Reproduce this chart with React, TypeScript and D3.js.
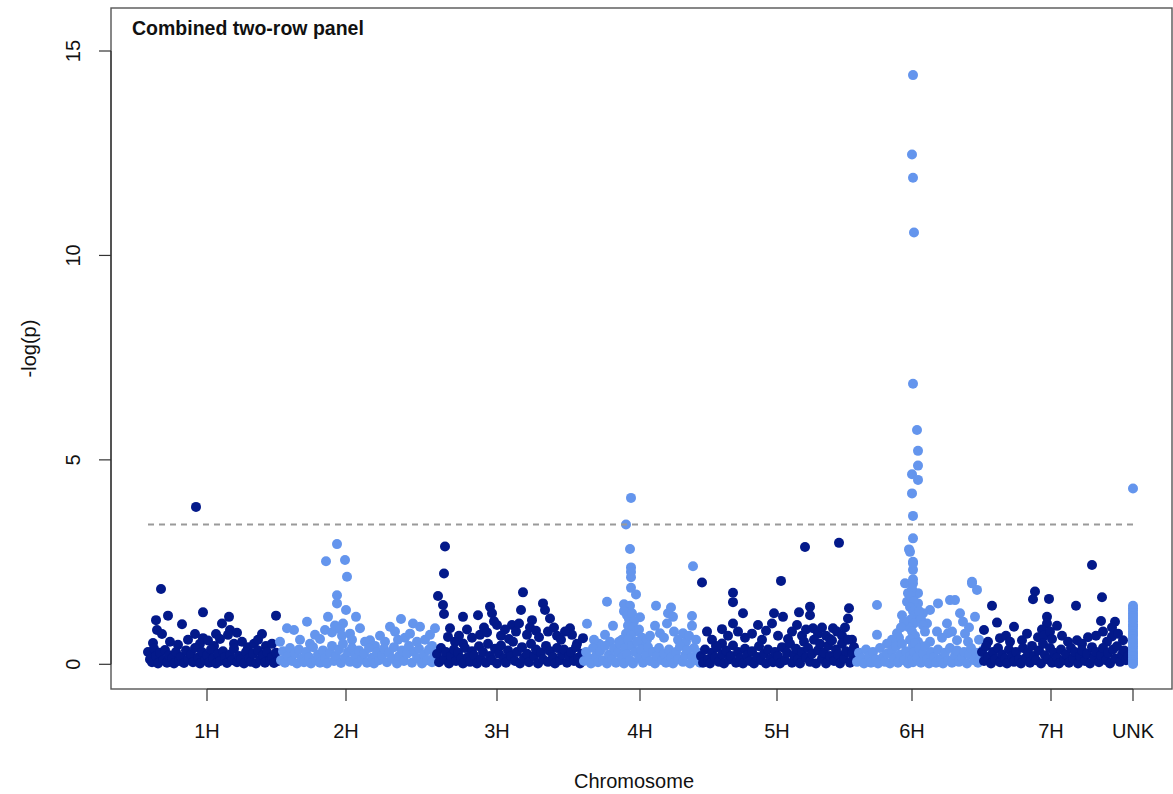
import React from "react";
import * as d3 from "d3";

// Chromosome layout (cumulative position units)
const chromosomes = ["1H", "2H", "3H", "4H", "5H", "6H", "7H", "UNK"];
const chromStart = [0, 132, 289, 436, 552, 709, 834, 985];
const chromTicks = [59, 198, 349, 492, 629, 764, 903, 985];
const yTicks = [0, 5, 10, 15];
const threshold = 3.42;
const title = "Combined two-row panel";

// Markers per chromosome: [position within chromosome, -log(p)]
const chr1H: [number, number][] = [
  [48, 3.85], [13, 1.84], [55, 1.27], [20, 1.19], [8, 1.08], [34, 0.98], [81, 1.16], [74, 1.0], [128, 1.19],
  [9, 0.84], [14, 0.74], [47, 0.74], [55, 0.64], [68, 0.74], [82, 0.84], [89, 0.77], [80, 0.72], [114, 0.74], [5, 0.52],
  [22, 0.55], [30, 0.48], [40, 0.6], [52, 0.5], [60, 0.58], [66, 0.45], [72, 0.62], [86, 0.5], [94, 0.55], [100, 0.42],
  [106, 0.5], [110, 0.6], [118, 0.45], [124, 0.5],
  [0, 0.3], [2, 0.12], [4, 0.05], [6, 0.38], [8, 0.2], [10, 0.02], [12, 0.28], [15, 0.1], [17, 0.35], [19, 0.04],
  [21, 0.22], [24, 0.14], [26, 0.02], [28, 0.3], [31, 0.08], [33, 0.18], [36, 0.03], [38, 0.34], [40, 0.12], [43, 0.24],
  [45, 0.05], [47, 0.4], [50, 0.16], [52, 0.02], [54, 0.3], [57, 0.1], [59, 0.22], [61, 0.04], [63, 0.36], [65, 0.14],
  [68, 0.02], [70, 0.26], [72, 0.08], [75, 0.32], [77, 0.18], [79, 0.03], [82, 0.24], [84, 0.1], [86, 0.38], [89, 0.05],
  [91, 0.2], [93, 0.12], [96, 0.02], [98, 0.3], [101, 0.15], [103, 0.06], [105, 0.26], [108, 0.02], [110, 0.34], [112, 0.12],
  [115, 0.22], [117, 0.04], [119, 0.3], [122, 0.1], [124, 0.18], [126, 0.03], [128, 0.28], [130, 0.08],
];

const chr2H: [number, number][] = [
  [57, 2.94], [46, 2.52], [65, 2.55], [67, 2.14], [57, 1.69], [57, 1.49], [66, 1.33], [27, 1.04], [48, 1.16], [76, 1.16],
  [14, 0.84], [7, 0.88], [121, 1.11], [133, 1.0], [140, 0.92], [155, 0.88], [110, 0.92], [35, 0.72], [45, 0.84], [63, 1.0],
  [80, 0.88], [90, 0.59], [0, 0.55],
  [20, 0.6], [30, 0.5], [40, 0.62], [52, 0.78], [55, 0.95], [60, 0.85], [62, 0.7], [70, 0.75], [72, 0.6], [85, 0.55],
  [95, 0.45], [100, 0.7], [105, 0.55], [115, 0.8], [118, 0.6], [125, 0.65], [130, 0.75], [137, 0.55], [145, 0.6], [150, 0.72], [152, 0.45],
  [1, 0.1], [3, 0.32], [5, 0.04], [8, 0.2], [10, 0.4], [12, 0.08], [15, 0.26], [17, 0.02], [19, 0.36], [22, 0.14],
  [24, 0.05], [26, 0.3], [29, 0.18], [31, 0.02], [33, 0.42], [36, 0.1], [38, 0.24], [40, 0.04], [43, 0.34], [45, 0.15],
  [47, 0.02], [50, 0.28], [52, 0.45], [54, 0.08], [56, 0.2], [59, 0.36], [61, 0.03], [63, 0.5], [65, 0.16], [68, 0.3],
  [70, 0.06], [72, 0.4], [75, 0.22], [77, 0.02], [79, 0.34], [82, 0.12], [84, 0.26], [87, 0.04], [89, 0.4], [92, 0.16],
  [94, 0.02], [97, 0.3], [99, 0.1], [102, 0.22], [104, 0.38], [107, 0.05], [109, 0.28], [112, 0.14], [114, 0.42], [117, 0.02],
  [119, 0.2], [122, 0.34], [124, 0.08], [127, 0.26], [129, 0.45], [132, 0.04], [134, 0.3], [137, 0.15], [139, 0.38], [142, 0.02],
  [144, 0.24], [147, 0.1], [149, 0.36], [152, 0.05], [154, 0.2], [156, 0.3],
];

const chr3H: [number, number][] = [
  [8, 2.88], [7, 2.22], [1, 1.67], [6, 1.45], [7, 1.23], [26, 1.16], [41, 1.2], [53, 1.41], [55, 1.25], [86, 1.76],
  [84, 1.33], [106, 1.49], [108, 1.33], [95, 1.08], [113, 1.12], [111, 0.8], [133, 0.88], [135, 0.72], [146, 0.64], [13, 0.88],
  [11, 0.67], [43, 0.72], [60, 0.96], [75, 0.96], [26, 0.51],
  [30, 0.85], [35, 0.65], [47, 0.9], [50, 0.78], [57, 1.05], [64, 0.7], [68, 0.85], [72, 0.62], [79, 0.8], [82, 1.0],
  [90, 0.72], [93, 0.9], [99, 0.82], [102, 0.66], [117, 0.9], [120, 0.7], [124, 0.6], [128, 0.8], [140, 0.5], [18, 0.55], [22, 0.7],
  [0, 0.25], [2, 0.05], [4, 0.4], [7, 0.12], [9, 0.3], [12, 0.02], [14, 0.2], [17, 0.36], [19, 0.08], [21, 0.28],
  [24, 0.14], [26, 0.02], [28, 0.4], [31, 0.18], [33, 0.06], [35, 0.32], [37, 0.22], [40, 0.02], [42, 0.44], [44, 0.12],
  [46, 0.3], [49, 0.04], [51, 0.5], [53, 0.2], [55, 0.1], [58, 0.38], [60, 0.02], [62, 0.26], [64, 0.46], [67, 0.14],
  [69, 0.04], [71, 0.34], [74, 0.2], [76, 0.55], [78, 0.08], [80, 0.3], [83, 0.02], [85, 0.42], [87, 0.16], [90, 0.26],
  [92, 0.05], [94, 0.5], [97, 0.2], [99, 0.36], [101, 0.02], [104, 0.28], [106, 0.12], [109, 0.45], [111, 0.06], [113, 0.32],
  [116, 0.18], [118, 0.02], [120, 0.4], [123, 0.1], [125, 0.24], [127, 0.36], [130, 0.04], [132, 0.2], [134, 0.3], [137, 0.08],
  [139, 0.42], [141, 0.16], [143, 0.02], [145, 0.26],
];

const chr4H: [number, number][] = [
  [47, 4.07], [42, 3.42], [46, 2.82], [47, 2.37], [47, 2.26], [47, 2.13], [47, 1.87], [52, 1.71], [109, 2.4], [23, 1.53],
  [40, 1.47], [46, 1.43], [72, 1.43], [87, 1.39], [84, 1.25], [89, 1.16], [108, 1.18], [56, 1.15], [3, 0.99], [29, 0.94],
  [71, 0.94], [83, 1.0], [108, 0.94], [21, 0.72], [76, 0.76], [99, 0.76],
  [40, 1.3], [43, 1.2], [45, 1.1], [48, 1.25], [50, 1.05], [44, 0.95], [49, 0.9], [52, 0.8], [42, 0.75], [47, 0.7],
  [55, 0.85], [38, 0.6], [58, 0.65], [60, 0.5], [35, 0.55], [63, 0.6], [66, 0.7], [80, 0.65], [90, 0.8], [94, 0.6],
  [102, 0.55], [105, 0.7], [112, 0.6], [15, 0.5], [10, 0.6], [26, 0.55],
  [0, 0.08], [2, 0.3], [5, 0.15], [7, 0.02], [9, 0.4], [12, 0.2], [14, 0.05], [16, 0.32], [19, 0.1], [21, 0.45],
  [23, 0.02], [25, 0.24], [28, 0.12], [30, 0.38], [32, 0.04], [34, 0.28], [36, 0.5], [38, 0.16], [40, 0.02], [41, 0.4],
  [43, 0.25], [44, 0.6], [46, 0.1], [48, 0.45], [49, 0.02], [51, 0.3], [53, 0.55], [55, 0.14], [57, 0.36], [59, 0.04],
  [62, 0.22], [64, 0.42], [66, 0.08], [69, 0.3], [71, 0.02], [73, 0.2], [75, 0.4], [78, 0.1], [80, 0.26], [82, 0.04],
  [85, 0.36], [87, 0.16], [89, 0.02], [92, 0.3], [94, 0.12], [96, 0.44], [99, 0.06], [101, 0.22], [103, 0.35], [106, 0.02],
  [108, 0.18], [110, 0.4], [112, 0.1], [114, 0.28], [116, 0.04],
];

const chr5H: [number, number][] = [
  [2, 2.0], [81, 2.04], [105, 2.87], [139, 2.97], [33, 1.75], [33, 1.52], [43, 1.25], [74, 1.25], [83, 1.16], [99, 1.27],
  [110, 1.41], [110, 1.2], [149, 1.37], [148, 1.12], [22, 0.86], [33, 1.0], [58, 0.96], [72, 1.0], [97, 0.96], [113, 0.88],
  [133, 0.88], [7, 0.8], [22, 0.51],
  [28, 0.7], [38, 0.8], [45, 0.65], [52, 0.75], [62, 0.6], [66, 0.82], [78, 0.7], [88, 0.62], [92, 0.8], [102, 0.7],
  [106, 0.85], [118, 0.75], [122, 0.9], [126, 0.7], [130, 0.62], [137, 0.8], [142, 0.7], [145, 0.9], [152, 0.6], [12, 0.6], [16, 0.45],
  [1, 0.2], [3, 0.04], [5, 0.36], [8, 0.12], [10, 0.02], [12, 0.28], [15, 0.16], [17, 0.42], [19, 0.06], [22, 0.24],
  [24, 0.02], [26, 0.34], [29, 0.12], [31, 0.2], [33, 0.46], [36, 0.04], [38, 0.3], [40, 0.14], [43, 0.02], [45, 0.38],
  [47, 0.22], [50, 0.08], [52, 0.32], [54, 0.02], [57, 0.18], [59, 0.44], [61, 0.1], [64, 0.26], [66, 0.02], [68, 0.36],
  [71, 0.14], [73, 0.05], [75, 0.3], [78, 0.2], [80, 0.02], [82, 0.42], [85, 0.1], [87, 0.28], [90, 0.5], [92, 0.04],
  [94, 0.22], [96, 0.38], [98, 0.12], [100, 0.02], [102, 0.3], [104, 0.55], [106, 0.16], [108, 0.4], [110, 0.06], [112, 0.26],
  [114, 0.6], [116, 0.02], [118, 0.34], [120, 0.5], [122, 0.14], [124, 0.28], [126, 0.02], [128, 0.45], [130, 0.2], [132, 0.58],
  [134, 0.08], [136, 0.36], [138, 0.24], [140, 0.02], [142, 0.5], [144, 0.14], [146, 0.32], [148, 0.6], [150, 0.04], [152, 0.26],
  [154, 0.42], [156, 0.1],
];

const chr6H: [number, number][] = [
  [56, 14.41], [55, 12.47], [56, 11.9], [57, 10.56], [56, 6.86], [60, 5.73], [61, 5.22], [61, 4.86], [55, 4.65], [61, 4.51],
  [55, 4.18], [56, 3.63], [56, 3.08], [52, 2.81], [53, 2.75], [56, 2.51], [56, 2.31], [56, 2.47], [48, 1.98], [56, 2.08],
  [115, 2.02], [56, 1.98], [51, 1.74], [61, 1.74], [20, 1.45], [50, 1.53], [61, 1.49], [81, 1.49], [93, 1.57], [98, 1.57],
  [115, 1.98], [120, 1.82], [103, 1.25], [106, 1.04], [118, 1.16], [73, 1.33], [66, 1.25], [90, 1.0], [91, 0.76], [70, 1.0],
  [40, 0.76], [20, 0.72], [38, 0.47], [61, 0.55], [73, 0.55], [100, 0.59], [111, 0.55], [126, 0.35],
  [55, 1.85], [54, 1.65], [57, 1.55], [53, 1.4], [56, 1.3], [58, 1.2], [54, 1.1], [57, 1.0], [52, 0.9], [55, 0.8],
  [58, 0.7], [53, 0.6], [56, 0.45], [59, 0.35], [54, 0.25],
  [62, 1.3], [64, 1.1], [66, 0.95], [68, 0.8], [45, 1.2], [47, 1.05], [44, 0.9], [42, 0.65], [35, 0.6], [30, 0.5],
  [80, 0.8], [85, 0.65], [95, 0.8], [108, 0.75], [112, 0.9], [122, 0.6],
  [0, 0.06], [2, 0.28], [5, 0.14], [7, 0.02], [9, 0.36], [12, 0.2], [14, 0.04], [16, 0.3], [19, 0.12], [21, 0.02],
  [23, 0.4], [26, 0.18], [28, 0.06], [30, 0.26], [33, 0.02], [35, 0.34], [37, 0.14], [39, 0.44], [41, 0.04], [43, 0.24],
  [45, 0.5], [47, 0.1], [49, 0.32], [51, 0.02], [53, 0.2], [55, 0.12], [56, 0.05], [57, 0.3], [58, 0.52], [60, 0.16],
  [62, 0.38], [64, 0.04], [66, 0.26], [68, 0.44], [70, 0.12], [72, 0.02], [74, 0.3], [77, 0.18], [79, 0.04], [81, 0.36],
  [84, 0.14], [86, 0.02], [88, 0.28], [91, 0.1], [93, 0.4], [95, 0.04], [98, 0.22], [100, 0.34], [102, 0.06], [105, 0.16],
  [107, 0.3], [110, 0.02], [112, 0.24], [114, 0.4], [117, 0.1], [119, 0.28], [121, 0.04], [123, 0.2], [125, 0.12],
];

const chr7H: [number, number][] = [
  [110, 2.43], [53, 1.78], [51, 1.59], [67, 1.6], [94, 1.43], [120, 1.64], [10, 1.43], [119, 1.06], [133, 1.04], [15, 1.02],
  [32, 0.92], [65, 1.16], [65, 1.0], [75, 0.94], [2, 0.84], [18, 0.64], [40, 0.59], [56, 0.66], [95, 0.59], [106, 0.66],
  [121, 0.8], [130, 0.9], [141, 0.59], [130, 0.68],
  [24, 0.7], [28, 0.55], [45, 0.75], [60, 0.85], [62, 0.7], [68, 0.8], [70, 0.62], [80, 0.7], [86, 0.55], [100, 0.5],
  [114, 0.7], [125, 0.55], [136, 0.75], [6, 0.55],
  [0, 0.3], [2, 0.08], [4, 0.44], [6, 0.18], [9, 0.02], [11, 0.3], [13, 0.12], [16, 0.4], [18, 0.05], [20, 0.24],
  [23, 0.14], [25, 0.02], [27, 0.36], [30, 0.2], [32, 0.06], [34, 0.3], [37, 0.12], [39, 0.02], [41, 0.4], [44, 0.16],
  [46, 0.28], [48, 0.04], [50, 0.45], [52, 0.2], [54, 0.1], [57, 0.34], [59, 0.02], [61, 0.5], [63, 0.22], [66, 0.12],
  [68, 0.4], [70, 0.04], [72, 0.28], [75, 0.16], [77, 0.02], [79, 0.36], [82, 0.1], [84, 0.24], [87, 0.04], [89, 0.4],
  [91, 0.14], [93, 0.3], [96, 0.02], [98, 0.2], [100, 0.34], [103, 0.08], [105, 0.26], [108, 0.02], [110, 0.42], [112, 0.16],
  [114, 0.3], [117, 0.05], [119, 0.22], [121, 0.4], [124, 0.1], [126, 0.28], [128, 0.02], [131, 0.36], [133, 0.14], [135, 0.44],
  [138, 0.06], [140, 0.24], [142, 0.34], [144, 0.1], [146, 0.2],
];

const chrUNK: [number, number][] = [
  [0, 4.3], [0, 1.43], [0, 1.37], [0, 1.31], [0, 1.24], [0, 1.18], [0, 1.12], [0, 1.05], [0, 0.98], [0, 0.93],
  [0, 0.87], [0, 0.8], [0, 0.74], [0, 0.69], [0, 0.62], [0, 0.55], [0, 0.5], [0, 0.44], [0, 0.38], [0, 0.31],
  [0, 0.26], [0, 0.2], [0, 0.15], [0, 0.09], [0, 0.04], [0, 0.01],
];

const markers = [chr1H, chr2H, chr3H, chr4H, chr5H, chr6H, chr7H, chrUNK];
const palette = ["#03198a", "#6495ed"];

const W = 1173;
const H = 794;
const box = { left: 111, right: 1172, top: 8, bottom: 689 };
const font = "'Liberation Sans', Arial, Helvetica, sans-serif";

export default function App() {
  const x = d3.scaleLinear().domain([-37, 1024]).range([box.left, box.right]);
  const y = d3.scaleLinear().domain([0, 15]).range([664.3, 51]);

  const points = markers.flatMap((chr, i) =>
    chr.map(([pos, v], j) => ({
      key: `${i}-${j}`,
      cx: x(chromStart[i] + pos),
      cy: y(v),
      fill: palette[i % 2],
    }))
  );

  return (
    <svg
      width={W}
      height={H}
      viewBox={`0 0 ${W} ${H}`}
      style={{ position: "absolute", left: 0, top: 0, display: "block", background: "#fff" }}
      fontFamily={font}
    >
      {/* markers */}
      {points.map((p) => (
        <circle key={p.key} cx={p.cx} cy={p.cy} r={5} fill={p.fill} />
      ))}

      {/* significance threshold */}
      <line
        x1={x(chromStart[0])}
        x2={x(chromStart[chromStart.length - 1])}
        y1={y(threshold)}
        y2={y(threshold)}
        stroke="#9a9a9a"
        strokeWidth={2}
        strokeDasharray="6,5"
      />

      {/* plot frame */}
      <rect
        x={box.left}
        y={box.top}
        width={box.right - box.left}
        height={box.bottom - box.top}
        fill="none"
        stroke="#555"
        strokeWidth={1.4}
      />

      {/* y axis */}
      <line x1={box.left} x2={box.left} y1={y(0)} y2={y(15)} stroke="#333" strokeWidth={1.2} />
      {yTicks.map((t) => (
        <g key={t}>
          <line x1={box.left - 12} x2={box.left} y1={y(t)} y2={y(t)} stroke="#333" strokeWidth={1.2} />
          <text
            transform={`translate(79.5,${y(t)}) rotate(-90)`}
            textAnchor="middle"
            fontSize={20}
            fill="#111"
          >
            {t}
          </text>
        </g>
      ))}
      <text transform={`translate(36,${(box.top + box.bottom) / 2}) rotate(-90)`} textAnchor="middle" fontSize={20} fill="#111">
        -log(p)
      </text>

      {/* x axis */}
      <line x1={x(chromTicks[0])} x2={x(chromTicks[chromTicks.length - 1])} y1={box.bottom} y2={box.bottom} stroke="#333" strokeWidth={1.2} />
      {chromosomes.map((c, i) => (
        <g key={c}>
          <line x1={x(chromTicks[i])} x2={x(chromTicks[i])} y1={box.bottom} y2={box.bottom + 12} stroke="#333" strokeWidth={1.2} />
          <text x={x(chromTicks[i])} y={738} textAnchor="middle" fontSize={20} fill="#111">
            {c}
          </text>
        </g>
      ))}
      <text x={634} y={788} textAnchor="middle" fontSize={20} fill="#111">
        Chromosome
      </text>

      {/* panel title */}
      <text x={132} y={35} fontSize={19.5} fontWeight="bold" fill="#111">
        {title}
      </text>
    </svg>
  );
}
